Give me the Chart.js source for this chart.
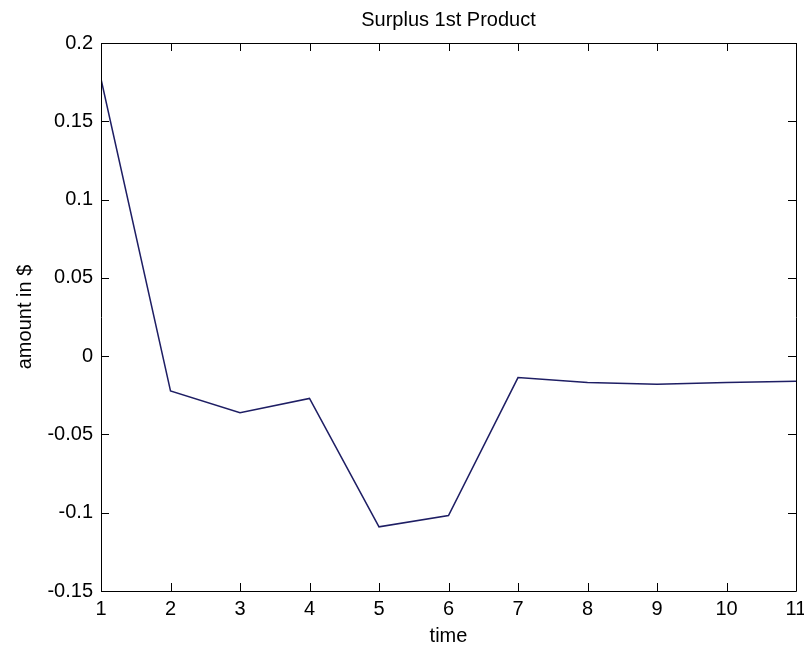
<!DOCTYPE html>
<html>
<head>
<meta charset="utf-8">
<title>Surplus 1st Product</title>
<script src="https://cdn.jsdelivr.net/npm/chart.js@4/dist/chart.umd.min.js"></script>
<style>
    html, body { margin: 0; padding: 0; background: #fff; }
    #wrap { width: 804px; height: 646px; position: relative; }
</style>
</head>
<body>
<div id="wrap"><canvas id="line-chart"></canvas></div>
<script>
// values
var timeSteps = [1, 2, 3, 4, 5, 6, 7, 8, 9, 10, 11];
var surplus = [0.177, -0.0222, -0.0362, -0.027, -0.109, -0.1018, -0.0137, -0.0168, -0.0179, -0.0168, -0.016];
var yTickValues = [-0.15, -0.1, -0.05, 0, 0.05, 0.1, 0.15, 0.2];
var yTickLabels = ['-0.15', '-0.1', '-0.05', '0', '0.05', '0.1', '0.15', '0.2'];

var FONT = "'Liberation Sans', Arial, Helvetica, sans-serif";
Chart.defaults.font.family = FONT;
Chart.defaults.font.size = 20;
Chart.defaults.color = '#000';

// matlab style box with inward ticks
var boxTicks = {
    id: 'boxTicks',
    afterDraw: function(chart) {
        var c = chart.ctx, a = chart.chartArea;
        var xs = chart.scales.x, ys = chart.scales.y;
        var len = 8;
        c.save();
        c.strokeStyle = '#000';
        c.lineWidth = 1;
        c.beginPath();
        c.rect(Math.round(a.left) + 0.5, Math.round(a.top) + 0.5,
               Math.round(a.right - a.left), Math.round(a.bottom - a.top));
        xs.ticks.forEach(function(t) {
            var px = Math.round(xs.getPixelForValue(t.value)) + 0.5;
            c.moveTo(px, a.bottom); c.lineTo(px, a.bottom - len);
            c.moveTo(px, a.top); c.lineTo(px, a.top + len);
        });
        ys.ticks.forEach(function(t) {
            var py = Math.round(ys.getPixelForValue(t.value)) + 0.5;
            c.moveTo(a.left, py); c.lineTo(a.left + len, py);
            c.moveTo(a.right, py); c.lineTo(a.right - len, py);
        });
        c.stroke();
        c.restore();
    }
};

var lineChart = new Chart(document.getElementById('line-chart'), {
    type: 'line',
    data: {
        datasets: [{
            label: 'surplus',
            data: timeSteps.map(function(t, i) { return { x: t, y: surplus[i] }; }),
            borderColor: '#1e1e64',
            borderWidth: 1.5,
            pointRadius: 0,
            tension: 0,
            fill: false
        }]
    },
    options: {
        responsive: true,
        maintainAspectRatio: false,
        animation: false,
        layout: { padding: { left: 0, right: 8, top: 0, bottom: 0 } },
        plugins: {
            legend: { display: false },
            tooltip: { enabled: false },
            title: { display: false }
        },
        scales: {
            x: {
                type: 'linear',
                min: 1,
                max: 11,
                grid: { display: false, drawTicks: false },
                border: { display: false },
                ticks: { stepSize: 1, padding: 6, font: { size: 20 } },
                title: { display: true, text: 'time', font: { size: 20, lineHeight: 1 }, padding: { top: 0, bottom: 0 } },
                afterFit: function(s) {
                    s.height = 55;
                    s.paddingLeft = 0;
                    s.paddingRight = 0;
                }
            },
            // top axis only carries the title so it centres over the plot box
            xTop: {
                type: 'linear',
                position: 'top',
                min: 1,
                max: 11,
                grid: { display: false, drawTicks: false },
                border: { display: false },
                ticks: { display: false },
                title: {
                    display: true,
                    text: 'Surplus 1st Product',
                    font: { size: 20, lineHeight: 1 },
                    padding: { top: 10, bottom: 0 }
                },
                afterFit: function(s) {
                    s.height = 43;
                    s.paddingLeft = 0;
                    s.paddingRight = 0;
                }
            },
            y: {
                min: -0.15,
                max: 0.2,
                grid: { display: false, drawTicks: false },
                border: { display: false },
                afterBuildTicks: function(s) {
                    s.ticks = yTickValues.map(function(v) { return { value: v }; });
                },
                ticks: {
                    padding: 8,
                    font: { size: 20 },
                    callback: function(v) {
                        var i = yTickValues.indexOf(v);
                        return i >= 0 ? yTickLabels[i] : '';
                    }
                },
                title: { display: true, text: 'amount in $', font: { size: 20, lineHeight: 1 }, padding: { top: 15, bottom: 0 } },
                afterFit: function(s) {
                    s.width = 101;
                    s.paddingTop = 0;
                    s.paddingBottom = 0;
                }
            }
        }
    },
    plugins: [boxTicks]
});
</script>
</body>
</html>
